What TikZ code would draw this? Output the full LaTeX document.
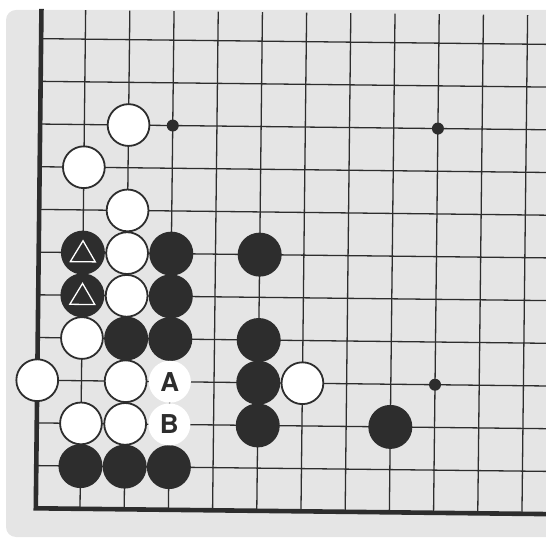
\documentclass[tikz,border=0pt]{standalone}
\usepackage{fontspec}
\setmainfont{TeX Gyre Heros}
\definecolor{bg}{RGB}{229,229,229}
\definecolor{ink}{RGB}{45,45,45}
\tikzset{
  gridline/.style={ink, line width=1.3pt},
  boardedge/.style={ink, line width=4.6pt, line join=miter},
  wst/.style={circle, draw=ink, line width=1.8pt, fill=white, minimum size=41.8pt, inner sep=0pt},
  bst/.style={circle, fill=ink, minimum size=44pt, inner sep=0pt},
  lab/.style={circle, fill=white, minimum size=42pt, inner sep=0pt, text=ink,
              font=\fontsize{26}{26}\selectfont\bfseries},
  hoshi/.style={circle, fill=ink, minimum size=12pt, inner sep=0pt},
  tri/.style={white, line width=1.3pt, line join=miter}
}
\begin{document}
\begin{tikzpicture}[x=1pt,y=1pt]
\useasboundingbox (0,0) rectangle (546,541);
\fill[bg, rounded corners=10pt] (6,4) rectangle (556,531);
\begin{scope}[shift={(35.8,32.7)}, rotate=-0.65, x=44.2pt, y=42.7pt]
  % grid
  \foreach \i in {1,...,11} \draw[gridline] (\i,0) -- (\i,11.68);
  \foreach \j in {1,...,11} \draw[gridline] (0,\j) -- (11.9,\j);
  \coordinate (top) at (0,11.7);
  \coordinate (corner) at (0,0);
  \coordinate (right) at (11.9,0);
  \draw[boardedge] (top) -- (corner) -- (right);
  % star points
  \node[hoshi] (s1) at (3,9) {};
  \node[hoshi] (s2) at (9,9) {};
  \node[hoshi] (s3) at (9,3) {};
  % white stones
  \node[wst] (w1) at (2,9) {};
  \node[wst] (w2) at (1,8) {};
  \node[wst] (w3) at (2,7) {};
  \node[wst] (w4) at (2,6) {};
  \node[wst] (w5) at (2,5) {};
  \node[wst] (w6) at (1,4) {};
  \node[wst] (w7) at (0,3) {};
  \node[wst] (w8) at (2,3) {};
  \node[wst] (w9) at (6,3) {};
  \node[wst] (w10) at (1,2) {};
  \node[wst] (w11) at (2,2) {};
  % black stones
  \node[bst] (b1) at (1,6) {};
  \node[bst] (b2) at (3,6) {};
  \node[bst] (b3) at (5,6) {};
  \node[bst] (b4) at (1,5) {};
  \node[bst] (b5) at (3,5) {};
  \node[bst] (b6) at (2,4) {};
  \node[bst] (b7) at (3,4) {};
  \node[bst] (b8) at (5,4) {};
  \node[bst] (b9) at (5,3) {};
  \node[bst] (b10) at (5,2) {};
  \node[bst] (b11) at (8,2) {};
  \node[bst] (b12) at (1,1) {};
  \node[bst] (b13) at (2,1) {};
  \node[bst] (b14) at (3,1) {};
  % triangle marks
  \draw[tri] (b1.center) ++(-12.5pt,-9.1pt) -- ++(25pt,0pt) -- ++(-12.5pt,21pt) -- cycle;
  \draw[tri] (b4.center) ++(-12.5pt,-9.1pt) -- ++(25pt,0pt) -- ++(-12.5pt,21pt) -- cycle;
  % labels
  \node[lab] (la) at (3,3) {A};
  \node[lab] (lb) at (3,2) {B};
\end{scope}
\end{tikzpicture}
\end{document}
